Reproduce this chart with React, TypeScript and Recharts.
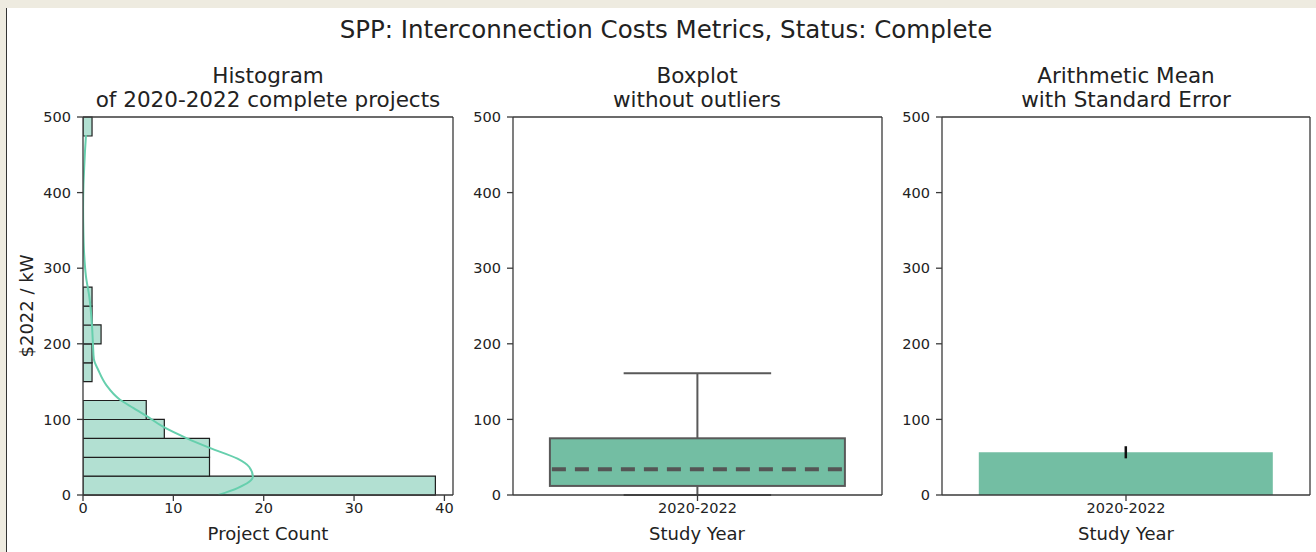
import React from 'react';
import { ComposedChart, BarChart, Bar, Line, XAxis, YAxis, ErrorBar } from 'recharts';

// histogram bins ($2022/kW, 25-wide), counts
const binLabels = [
  '0-25', '25-50', '50-75', '75-100', '100-125', '125-150', '150-175', '175-200',
  '200-225', '225-250', '250-275', '275-300', '300-325', '325-350', '350-375',
  '375-400', '400-425', '425-450', '450-475', '475-500',
];
const binCounts = [39, 14, 14, 9, 7, 0, 1, 1, 2, 1, 1, 0, 0, 0, 0, 0, 0, 0, 0, 1];

// kde curve (value, count-scaled density)
const kdeValues = [0, 9, 24, 37, 48, 62, 75, 90, 104, 115, 126, 145, 165, 180, 200, 223, 262, 289, 320, 350, 380, 410, 430, 455, 476];
const kdeCounts = [15.0, 17.1, 18.8, 18.4, 17.1, 14.1, 11.5, 8.9, 7.1, 5.6, 4.1, 2.6, 1.7, 1.2, 1.1, 1.0, 0.7, 0.33, 0.12, 0.04, 0.01, 0.05, 0.12, 0.22, 0.33];

const studyYears = ['2020-2022'];
const whiskerLow = [0];
const q1 = [12];
const median = [34];
const q3 = [75];
const whiskerHigh = [161];

const meanValues = [56.5];
const stdErrors = [8];

const yTicks = [0, 100, 200, 300, 400, 500];
const countTicks = [0, 10, 20, 30, 40];

const histData = binLabels.map((bin, i) => ({ bin, count: binCounts[i] }));
const kdeData = kdeValues.map((v, i) => ({ v, kde: kdeCounts[i] }));
const boxData = studyYears.map((year, i) => ({
  year,
  range: [whiskerLow[i], whiskerHigh[i]],
  lo: whiskerLow[i],
  q1: q1[i],
  med: median[i],
  q3: q3[i],
  hi: whiskerHigh[i],
}));
const meanData = studyYears.map((year, i) => ({ year, mean: meanValues[i], se: stdErrors[i] }));

const FONT = '"DejaVu Sans", sans-serif';
const AXIS = '#3a3a3a';
const TEXT = '#222';
const tickStyle = { fontSize: 14.5, fill: TEXT, fontFamily: FONT };

function BoxShape(props: any) {
  const { x, y, width, height, payload } = props;
  const top = Math.min(y, y + height);
  const h = Math.abs(height);
  const span = payload.hi - payload.lo;
  const toY = (v: number) => top + (h * (payload.hi - v)) / span;
  const cx = x + width / 2;
  const capL = cx - width / 4;
  const capR = cx + width / 4;
  const boxTop = toY(payload.q3);
  const boxBot = toY(payload.q1);
  const grey = '#595959';
  return (
    <g>
      <line x1={cx} x2={cx} y1={toY(payload.hi)} y2={boxTop} stroke={grey} strokeWidth={2} />
      <line x1={cx} x2={cx} y1={boxBot} y2={toY(payload.lo)} stroke={grey} strokeWidth={2} />
      <line x1={capL} x2={capR} y1={toY(payload.hi)} y2={toY(payload.hi)} stroke={grey} strokeWidth={2} />
      <line x1={capL} x2={capR} y1={toY(payload.lo)} y2={toY(payload.lo)} stroke={grey} strokeWidth={2} />
      <rect x={x} y={boxTop} width={width} height={boxBot - boxTop} fill="#73bea3" stroke={grey} strokeWidth={2} />
      <line
        x1={x + 2}
        x2={x + width - 2}
        y1={toY(payload.med)}
        y2={toY(payload.med)}
        stroke="#555"
        strokeWidth={4}
        strokeDasharray="14 9"
      />
    </g>
  );
}

function Txt({ cx, cy, size, children }: { cx: number; cy: number; size: number; children: React.ReactNode }) {
  return (
    <div
      style={{
        position: 'absolute',
        left: cx - 500,
        width: 1000,
        top: cy - 15,
        lineHeight: '30px',
        fontSize: size,
        textAlign: 'center',
        color: TEXT,
        whiteSpace: 'pre',
      }}
    >
      {children}
    </div>
  );
}

// spines on top and right, matplotlib style
const topSpine = (domain: any, type: 'number' | 'category', key?: string) => (
  <XAxis
    xAxisId="top"
    orientation="top"
    type={type}
    dataKey={key}
    domain={domain}
    height={1}
    tick={false}
    tickLine={false}
    stroke={AXIS}
    strokeWidth={1.3}
  />
);
const rightSpine = (
  <YAxis yAxisId="right" orientation="right" type="number" domain={[0, 500]} width={1} tick={false} tickLine={false} stroke={AXIS} strokeWidth={1.3} />
);

export default function App() {
  return (
    <div
      style={{
        position: 'absolute',
        left: 0,
        top: 0,
        width: 1316,
        height: 552,
        background: '#eeebe0',
        fontFamily: FONT,
        overflow: 'hidden',
      }}
    >
      <div
        style={{
          position: 'absolute',
          left: 6,
          top: 8,
          width: 1310,
          height: 544,
          background: '#fff',
          borderLeft: '1.5px solid #333',
        }}
      />

      <Txt cx={666} cy={30} size={24.5}>SPP: Interconnection Costs Metrics, Status: Complete</Txt>

      <Txt cx={268} cy={76} size={21.5}>Histogram</Txt>
      <Txt cx={268} cy={100} size={21.5}>of 2020-2022 complete projects</Txt>
      <Txt cx={697} cy={76} size={21.5}>Boxplot</Txt>
      <Txt cx={697} cy={100} size={21.5}>without outliers</Txt>
      <Txt cx={1126} cy={76} size={21.5}>Arithmetic Mean</Txt>
      <Txt cx={1126} cy={100} size={21.5}>with Standard Error</Txt>

      <Txt cx={268} cy={534} size={18}>Project Count</Txt>
      <Txt cx={697} cy={534} size={18}>Study Year</Txt>
      <Txt cx={1126} cy={534} size={18}>Study Year</Txt>
      <div
        style={{
          position: 'absolute',
          left: 27 - 100,
          top: 306 - 12,
          width: 200,
          lineHeight: '24px',
          fontSize: 18,
          textAlign: 'center',
          color: TEXT,
          transform: 'rotate(-90deg)',
        }}
      >
        $2022 / kW
      </div>

      {/* histogram */}
      <div style={{ position: 'absolute', left: 0, top: 0 }}>
        <ComposedChart
          width={470}
          height={552}
          layout="vertical"
          data={histData}
          margin={{ top: 116, right: 16, bottom: 27, left: 0 }}
          barCategoryGap={0}
          barGap={0}
        >
          <XAxis
            type="number"
            domain={[0, 40.95]}
            ticks={countTicks}
            height={30}
            tickSize={6}
            tickMargin={2}
            tick={tickStyle}
            stroke={AXIS}
            strokeWidth={1.3}
            allowDataOverflow
          />
          {topSpine([0, 40.95], 'number')}
          <YAxis
            yAxisId="val"
            type="number"
            dataKey="v"
            domain={[0, 500]}
            ticks={yTicks}
            width={83}
            tickSize={6}
            tickMargin={6}
            tick={tickStyle}
            stroke={AXIS}
            strokeWidth={1.3}
            reversed
            allowDataOverflow
          />
          <YAxis yAxisId="bins" type="category" dataKey="bin" hide reversed width={0} />
          {rightSpine}
          <Bar yAxisId="bins" dataKey="count" fill="#b2e0d2" stroke="#1e1e1e" strokeWidth={1.2} isAnimationActive={false} />
          <Line
            yAxisId="val"
            data={kdeData}
            dataKey="kde"
            type="monotone"
            stroke="#66cfad"
            strokeWidth={2}
            dot={false}
            activeDot={false}
            isAnimationActive={false}
          />
        </ComposedChart>
      </div>

      {/* boxplot */}
      <div style={{ position: 'absolute', left: 430, top: 0 }}>
        <BarChart
          width={470}
          height={552}
          data={boxData}
          margin={{ top: 116, right: 17, bottom: 27, left: 0 }}
          barCategoryGap="10%"
        >
          <XAxis dataKey="year" height={30} tickSize={6} tickMargin={2} tick={tickStyle} stroke={AXIS} strokeWidth={1.3} />
          {topSpine(undefined, 'category', 'year')}
          <YAxis type="number" domain={[0, 500]} ticks={yTicks} width={83} tickSize={6} tickMargin={6} tick={tickStyle} stroke={AXIS} strokeWidth={1.3} />
          {rightSpine}
          <Bar dataKey="range" shape={<BoxShape />} isAnimationActive={false} />
        </BarChart>
      </div>

      {/* mean with standard error */}
      <div style={{ position: 'absolute', left: 860, top: 0 }}>
        <BarChart
          width={456}
          height={552}
          data={meanData}
          margin={{ top: 116, right: 5, bottom: 27, left: 0 }}
          barCategoryGap="10%"
        >
          <XAxis dataKey="year" height={30} tickSize={6} tickMargin={2} tick={tickStyle} stroke={AXIS} strokeWidth={1.3} />
          {topSpine(undefined, 'category', 'year')}
          <YAxis type="number" domain={[0, 500]} ticks={yTicks} width={82} tickSize={6} tickMargin={6} tick={tickStyle} stroke={AXIS} strokeWidth={1.3} />
          {rightSpine}
          <Bar dataKey="mean" fill="#73bea3" isAnimationActive={false}>
            <ErrorBar dataKey="se" width={0} stroke="#111" strokeWidth={2.5} direction="y" />
          </Bar>
        </BarChart>
      </div>
    </div>
  );
}
